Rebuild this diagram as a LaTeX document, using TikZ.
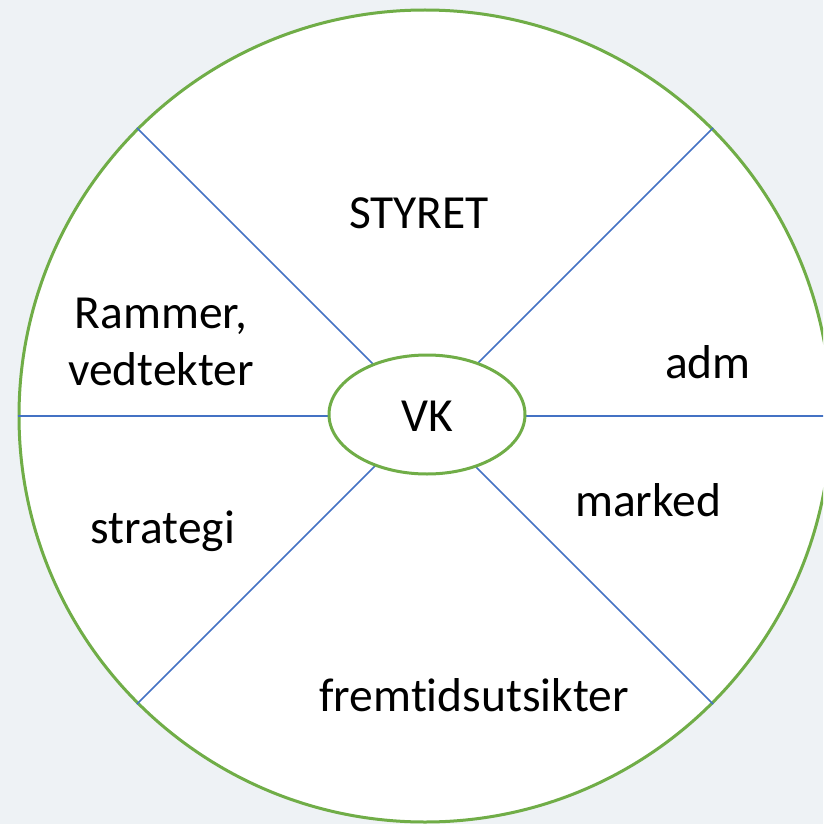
\documentclass[tikz,border=0pt]{standalone}
\usepackage{fontspec}
\setmainfont[Ligatures={NoCommon,NoRare,NoContextual}]{Carlito}
\usetikzlibrary{shapes.geometric}
\definecolor{bg}{HTML}{EEF2F5}
\definecolor{grn}{HTML}{70AD47}
\definecolor{blu}{HTML}{4472C4}
\begin{document}
\begin{tikzpicture}[x=1pt,y=-1pt,
  lbl/.style={font=\fontsize{47.5}{57}\selectfont, text=black, align=center, inner sep=0pt},
  spoke/.style={draw=blu, line width=1.5pt}]
\useasboundingbox (0,0) rectangle (823,824);
\clip (0,0) rectangle (823,824);
\fill[bg] (0,0) rectangle (823,824);
\coordinate (c) at (425,416);
\node[circle, draw=grn, fill=white, line width=3pt, minimum size=812pt, inner sep=0pt] (wheel) at (c) {};
\draw[spoke, line width=1.8pt] (wheel.west) -- (wheel.east);
\draw[spoke] (wheel.north west) -- (wheel.south east);
\draw[spoke] (wheel.north east) -- (wheel.south west);
\node[ellipse, draw=grn, fill=white, line width=3pt, minimum width=196pt, minimum height=119pt, inner sep=0pt] (vk) at (427,414.5) {};
\node[lbl] (vkt) at (427,416) {VK};
\node[lbl] (styret) at (419,213) {STYRET};
\node[lbl] (rammer) at (161,342) {Rammer,\\vedtekter};
\node[lbl] (adm) at (708,362) {adm};
\node[lbl] (marked) at (648,500) {marked};
\node[lbl] (strategi) at (163,531) {strategi};
\node[lbl] (frem) at (474,695) {fremt\kern0pt idsut\kern0pt sikter};
\end{tikzpicture}
\end{document}
